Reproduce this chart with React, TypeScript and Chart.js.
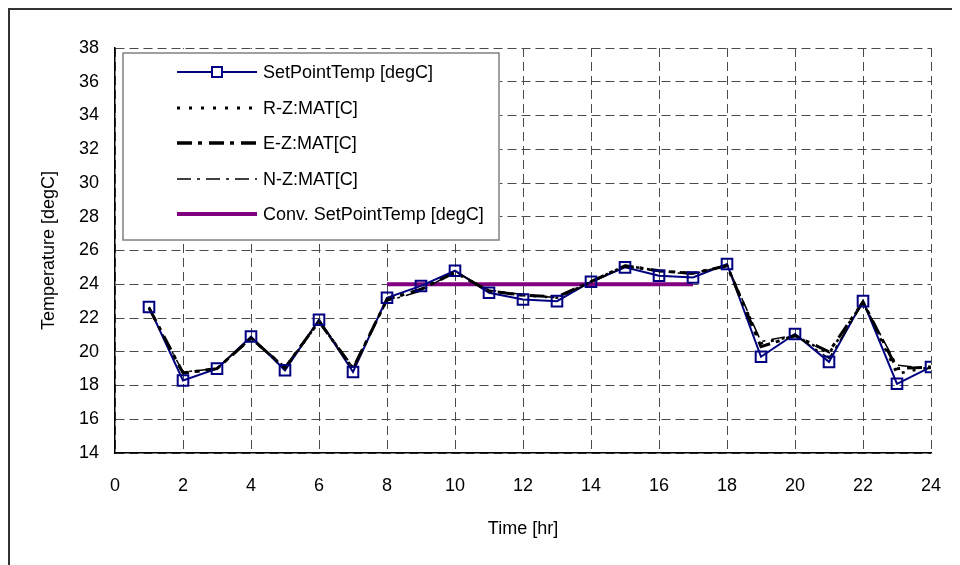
import React, { useEffect, useRef } from "react";
import { Chart, registerables } from "chart.js";

Chart.register(...registerables);

// ---- Data ----
const hours = [1, 2, 3, 4, 5, 6, 7, 8, 9, 10, 11, 12, 13, 14, 15, 16, 17, 18, 19, 20, 21, 22, 23, 24];
const setPointTemp = [22.65, 18.3, 19.0, 20.9, 18.9, 21.9, 18.8, 23.2, 23.9, 24.8, 23.5, 23.1, 23.0, 24.15, 25.0, 24.5, 24.4, 25.2, 19.7, 21.05, 19.4, 23.0, 18.1, 19.1];
const rzMat = [22.6, 18.7, 19.0, 20.8, 19.0, 21.8, 19.0, 23.1, 23.7, 24.7, 23.6, 23.35, 23.2, 24.15, 25.1, 24.8, 24.65, 25.1, 20.5, 20.95, 19.9, 22.95, 18.7, 19.1];
const ezMat = [22.6, 18.75, 19.0, 20.8, 19.05, 21.8, 19.0, 23.1, 23.7, 24.7, 23.6, 23.35, 23.25, 24.15, 25.1, 24.8, 24.65, 25.1, 20.3, 20.95, 20.0, 22.95, 19.0, 19.1];
const nzMat = [22.55, 18.8, 19.0, 20.85, 19.1, 21.85, 19.1, 23.0, 23.6, 24.75, 23.65, 23.4, 23.2, 24.1, 25.05, 24.75, 24.6, 25.15, 20.6, 21.0, 19.6, 22.9, 19.2, 19.0];
const convHours = [8, 17];
const convSetPoint = [24, 24];

const seriesLabels = ["SetPointTemp [degC]", "R-Z:MAT[C]", "E-Z:MAT[C]", "N-Z:MAT[C]", "Conv. SetPointTemp [degC]"];
const xTitle = "Time [hr]";
const yTitle = "Temperature [degC]";
const xMin = 0, xMax = 24, xStep = 2;
const yMin = 14, yMax = 38, yStep = 2;

const FONT = '"Liberation Sans", Arial, sans-serif';
const FS = 18;
const NAVY = "#000080";
const PURPLE = "#800080";
const GRID = "#4a4a4a";

const toXY = (xs: number[], ys: number[]) => xs.map((x, i) => ({ x, y: ys[i] }));

const legendStyles = [
  { color: NAVY, width: 2, dash: [] as number[], marker: true },
  { color: "#000", width: 3, dash: [3, 9], marker: false },
  { color: "#000", width: 3.5, dash: [15, 6, 4, 7], marker: false },
  { color: "#000", width: 1.5, dash: [14, 6, 3, 6], marker: false },
  { color: PURPLE, width: 4, dash: [] as number[], marker: false },
];

const framePlugin = {
  id: "frameAndLegend",
  afterDraw(chart: any) {
    const ctx = chart.ctx as CanvasRenderingContext2D;
    const ca = chart.chartArea;
    ctx.save();
    // outer frame (top & left visible)
    ctx.strokeStyle = "#333";
    ctx.lineWidth = 2;
    ctx.beginPath();
    ctx.moveTo(1, chart.height);
    ctx.lineTo(1, 1);
    ctx.lineTo(chart.width, 1);
    ctx.stroke();

    // legend box
    const boxL = ca.left + 8;
    const boxT = ca.top + 5;
    const boxR = ca.left + 384;
    const boxB = ca.top + 192;
    ctx.fillStyle = "#fff";
    ctx.fillRect(ca.left + 1, ca.top + 1, boxR - ca.left, boxB - ca.top);
    ctx.strokeStyle = "#808080";
    ctx.lineWidth = 1.5;
    ctx.strokeRect(boxL, boxT, boxR - boxL, boxB - boxT);

    const rowY = [24, 60, 95, 131, 166];
    const x0 = ca.left + 62;
    const x1 = ca.left + 142;
    ctx.font = `${FS}px ${FONT}`;
    ctx.textBaseline = "middle";
    ctx.textAlign = "left";
    seriesLabels.forEach((label, i) => {
      const st = legendStyles[i];
      const y = ca.top + rowY[i];
      ctx.strokeStyle = st.color;
      ctx.lineWidth = st.width;
      ctx.setLineDash(st.dash);
      ctx.beginPath();
      ctx.moveTo(x0, y);
      ctx.lineTo(x1, y);
      ctx.stroke();
      ctx.setLineDash([]);
      if (st.marker) {
        ctx.fillStyle = "#fff";
        ctx.fillRect((x0 + x1) / 2 - 5, y - 5, 10, 10);
        ctx.strokeRect((x0 + x1) / 2 - 5, y - 5, 10, 10);
      }
      ctx.fillStyle = "#000";
      ctx.fillText(label, x1 + 6, y + 1);
    });
    ctx.restore();
  },
};

export default function App() {
  const canvasRef = useRef<HTMLCanvasElement | null>(null);

  useEffect(() => {
    if (!canvasRef.current) return;
    const chart = new Chart(canvasRef.current, {
      type: "line",
      data: {
        datasets: [
          {
            label: seriesLabels[0] + " markers",
            data: toXY(hours, setPointTemp),
            showLine: false,
            pointStyle: "rect",
            pointRadius: 7.5,
            pointBorderWidth: 2,
            pointBorderColor: NAVY,
            pointBackgroundColor: "rgba(0,0,0,0)",
            borderColor: NAVY,
          },
          {
            label: seriesLabels[1],
            data: toXY(hours, rzMat),
            borderColor: "#000",
            borderWidth: 2.5,
            borderDash: [3, 8],
            pointRadius: 0,
            tension: 0,
          },
          {
            label: seriesLabels[2],
            data: toXY(hours, ezMat),
            borderColor: "#000",
            borderWidth: 3,
            borderDash: [15, 6, 4, 7],
            pointRadius: 0,
          },
          {
            label: seriesLabels[3],
            data: toXY(hours, nzMat),
            borderColor: "#000",
            borderWidth: 1.5,
            borderDash: [14, 6, 3, 6],
            pointRadius: 0,
          },
          {
            label: seriesLabels[0],
            data: toXY(hours, setPointTemp),
            borderColor: NAVY,
            borderWidth: 2,
            pointRadius: 0,
          },
          {
            label: seriesLabels[4],
            data: toXY(convHours, convSetPoint),
            borderColor: PURPLE,
            borderWidth: 4,
            pointRadius: 0,
          },
        ],
      },
      options: {
        responsive: false,
        animation: false,
        devicePixelRatio: 1,
        layout: { padding: { left: 0, top: 40, right: 29, bottom: 0 } },
        plugins: { legend: { display: false }, tooltip: { enabled: false } },
        scales: {
          x: {
            type: "linear",
            min: xMin,
            max: xMax,
            ticks: { stepSize: xStep, color: "#000", font: { family: FONT, size: FS }, padding: 22, maxRotation: 0 },
            grid: { color: GRID, lineWidth: 1, drawTicks: false },
            border: { display: true, color: "#000", width: 1.5, dash: [9, 5] },
            title: { display: true, text: xTitle, color: "#000", font: { family: FONT, size: FS }, padding: { top: 0, bottom: 25 } },
            afterFit(scale: any) {
              scale.height = 112;
              scale.paddingLeft = 0;
              scale.paddingRight = 0;
            },
          },
          y: {
            min: yMin,
            max: yMax,
            ticks: { stepSize: yStep, color: "#000", font: { family: FONT, size: FS }, padding: 16 },
            grid: { color: GRID, lineWidth: 1, drawTicks: false },
            border: { display: true, color: "#000", width: 1.5, dash: [9, 5] },
            title: { display: true, text: yTitle, color: "#000", font: { family: FONT, size: FS }, padding: { top: 30, bottom: 0 } },
            afterFit(scale: any) {
              scale.width = 107;
              scale.paddingTop = 0;
              scale.paddingBottom = 0;
            },
          },
        },
      },
      plugins: [framePlugin],
    } as any);
    return () => chart.destroy();
  }, []);

  return (
    <div style={{ width: 952, height: 557, position: "relative" }}>
      <canvas ref={canvasRef} width={952} height={557} style={{ width: 952, height: 557, display: "block" }} />
    </div>
  );
}
